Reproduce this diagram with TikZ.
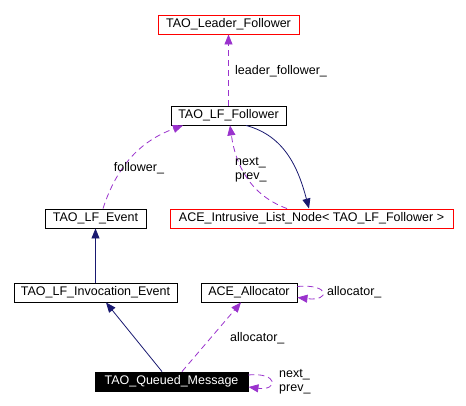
\documentclass[tikz,border=0pt]{standalone}
\usepackage{fontspec}
\setmainfont{Liberation Sans}
\usetikzlibrary{arrows.meta}
\definecolor{dpurple}{RGB}{154,50,205}
\definecolor{dnavy}{RGB}{25,25,112}
\tikzset{
  cls/.style={draw=black, line width=0.9pt, inner sep=0pt, minimum height=19pt, font=\fontsize{12.5pt}{14pt}\selectfont},
  redcls/.style={cls, draw=red},
  hicls/.style={cls, fill=black, text=white},
  usage/.style={dpurple, dashed, dash pattern=on 6pt off 4pt, line width=0.8pt, -{Triangle[length=10pt,width=8pt]}},
  inherit/.style={dnavy, line width=0.8pt, -{Triangle[length=10pt,width=8pt]}},
  lbl/.style={inner sep=0pt, align=left, font=\fontsize{12.5pt}{14pt}\selectfont}
}
\begin{document}
\begin{tikzpicture}[x=1pt,y=-1pt]
\useasboundingbox (0,0) rectangle (466,406);
\node[redcls, minimum width=141pt] (lead) at (228.5,24.5) {TAO\_Leader\_Follower};
\node[cls, minimum width=115pt] (fol) at (228.5,115.5) {TAO\_LF\_Follower};
\node[redcls, minimum width=283pt] (intr) at (311.5,218.5) {ACE\_Intrusive\_List\_Node< TAO\_LF\_Follower >};
\node[cls, minimum width=101pt] (ev) at (95.5,218.5) {TAO\_LF\_Event};
\node[cls, minimum width=163pt] (inv) at (95.5,292.5) {TAO\_LF\_Invocation\_Event};
\node[cls, minimum width=96pt] (al) at (249,292.5) {ACE\_Allocator};
\node[hicls, minimum width=153pt] (qm) at (171.5,381.5) {TAO\_Queued\_Message};

\draw[usage] (fol.north) -- (lead.south);
\node[lbl, anchor=west] (l1) at (235,71) {leader\_follower\_};

\draw[usage] ([xshift=7.5pt]ev.north) to[out=72,in=200] ([xshift=-45.5pt]fol.south);
\node[lbl] (l2) at (139,168) {follower\_};

\draw[usage] ([xshift=-24.5pt]intr.north) to[out=160,in=-82] ([xshift=1.5pt]fol.south);
\node[lbl, anchor=west] (l3) at (235,170) {next\_\\prev\_};

\draw[inherit] ([xshift=17.5pt]fol.south) to[out=-15,in=105] ([xshift=-2.5pt]intr.north);

\draw[inherit] (inv.north) -- (ev.south);
\draw[inherit] ([xshift=-9.5pt]qm.north) -- ([xshift=10.5pt]inv.south);
\draw[usage] ([xshift=10.5pt]qm.north) -- ([xshift=-8pt]al.south);
\node[lbl, anchor=west] (l4) at (230,338) {allocator\_};

\draw[usage] ([yshift=6pt]al.east) .. controls +(33pt,3pt) and +(33pt,-4pt) .. ([yshift=-5pt]al.east);
\node[lbl, anchor=west] (l5) at (327,292) {allocator\_};

\draw[usage] ([yshift=6.5pt]qm.east) .. controls +(30pt,3pt) and +(30pt,-4pt) .. ([yshift=-5.5pt]qm.east);
\node[lbl, anchor=west] (l6) at (279,382) {next\_\\prev\_};
\end{tikzpicture}
\end{document}
